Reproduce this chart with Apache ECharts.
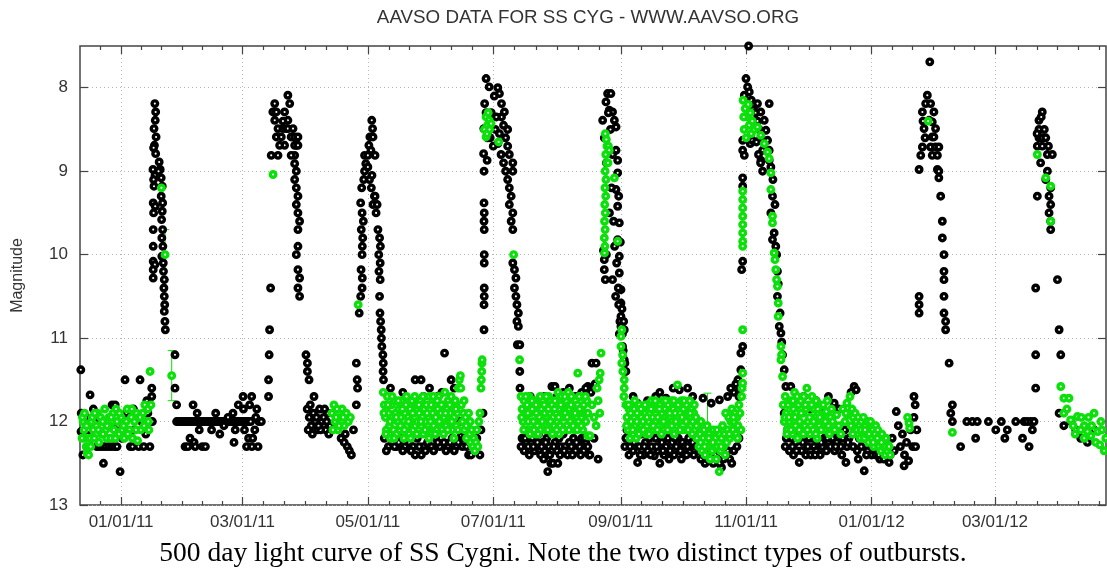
<!DOCTYPE html>
<html>
<head>
<meta charset="utf-8">
<title>AAVSO SS Cyg</title>
<script src="https://cdn.jsdelivr.net/npm/echarts@6/dist/echarts.min.js"></script>
<style>
  html, body { margin: 0; padding: 0; background: #fff; }
  #main { width: 1107px; height: 571px; }
</style>
</head>
<body>
<div id="main"></div>
<script>
// days counted from 01/01/11
var tickDays = [0, 59, 120, 181, 243, 304, 365, 425];
var tickLabels = ["01/01/11", "03/01/11", "05/01/11", "07/01/11", "09/01/11", "11/01/11", "01/01/12", "03/01/12"];
var magTicks = [8, 9, 10, 11, 12, 13];

// visual observations (black) : [day, magnitude]
var visualObs = [
  // Dec 2010 - Jan 2011 quiescence
  [-19.6,11.38],[-19.4,11.9],[-19.5,12.12],[-18.6,12.4],[-15.1,11.68],[-17,11.95],[-16,12.1],[-14.5,12.2],[-13.5,11.85],[-12.5,12.0],
  [-11.8,12.3],[-10.5,12.3],[-9,12.3],[-7.5,12.3],[-6,12.3],[-4.5,12.3],[-3,12.3],[-2,12.3],[-8.6,12.5],[-0.5,12.6],
  [-4.4,11.8],[-2.9,11.8],[-1.5,12.05],[0.5,12.2],[1.9,11.5],[2.5,11.9],[3.5,12.15],[4.5,12.3],[5.5,12.3],[6.5,12.1],
  [7.5,11.95],[8.5,12.3],[9.2,11.5],[10,12.0],[11,12.3],[12,12.15],[13,11.9],[14,12.3],[14.9,11.6],[14.9,11.7],[15.2,12.0],[12.5,11.75],[6,11.85],[1,11.95],
  // outburst 1
  [16.4,8.19],[16.8,8.29],[16.6,8.39],[16,8.49],[17,8.59],[16.2,8.69],[15.8,8.72],[16.8,8.79],[15.5,8.98],[16.5,9.05],[15.8,9.1],[16,9.18],
  [15.6,9.38],[16.6,9.42],[15.8,9.5],[15.6,9.7],[15.6,9.9],[15.6,10.08],[16.4,10.12],[15.6,10.18],[15.6,10.28],
  [18.5,8.89],[19,8.98],[18.2,9.0],[19.5,9.08],[20,9.18],[19.5,9.3],[20.2,9.38],[20,9.48],[19.7,9.58],[20.2,9.7],[19.8,9.8],
  [20.3,9.9],[19.8,10.02],[20.5,10.1],[20.6,10.2],[21,10.3],[20.8,10.4],[21,10.5],[21.2,10.6],[21,10.68],[21.3,10.8],[21.5,10.9],
  [26.2,11.2],[26.2,11.6],[27,11.8],
  // Feb 2011 quiescence
  [27,12.0],[28,12.0],[29,12.0],[30,12.0],[31,12.0],[32,12.0],[33,12.0],[34,12.0],[35,12.0],[36,12.0],[37,12.0],[38,12.0],
  [39,12.0],[40,12.0],[41,12.0],[42,12.0],[43,12.0],[44,12.0],[45,12.0],[46,12.0],[47,12.0],[48,12.0],[49,12.0],[50,12.0],
  [51,12.0],[52,12.0],[53,12.0],[54,12.0],[55,12.0],[56,12.0],[57,12.0],[58,12.0],[59,12.0],[60,12.0],[61,12.0],[62,12.0],[63,12.0],
  [31.1,12.3],[32.5,12.3],[35,11.8],[33.5,12.2],[35.5,12.25],[36,12.3],[38,12.1],[39.5,12.3],[41,12.3],[37,11.9],[44,12.1],
  [46,11.9],[48,12.15],[50,12.05],[52,11.95],[54.4,11.9],[54.9,12.25],[55.5,12.1],[57,11.8],[59.3,11.7],[59.5,11.85],[60,12.1],
  [61,12.3],[62,12.2],[62.5,11.8],[63.5,11.7],[63.6,12.3],[64,12.2],[65,12.1],[66,11.85],[66.6,12.3],[67,12.0],[68.2,12.0],[65.5,11.95],
  // outburst 2
  [72.7,10.4],[72.2,10.9],[72.0,11.2],[71.7,11.5],[71.7,11.7],
  [81.1,8.09],[82.0,8.19],[74.7,8.19],[73.8,8.29],[75.5,8.29],[74.7,8.39],[76.3,8.49],[73.0,8.81],[75.5,8.59],[77.9,8.59],
  [78.7,8.49],[80.3,8.49],[81.1,8.49],[82.7,8.59],[84.4,8.59],[85.2,8.69],[84.4,8.69],[86.0,8.69],[84.4,8.81],[82.7,8.81],
  [79.5,8.69],[77.1,8.69],[76.3,8.81],[81.1,8.39],[79.5,8.29],[78.7,8.4],[86.0,8.59],[83.6,8.49],
  [84.4,8.91],[85.2,9.0],[84.4,9.1],[85.2,9.2],[86.0,9.3],[85.2,9.4],[86.0,9.5],[86.8,9.6],[86.0,9.7],[86.0,9.9],[85.2,10.0],
  [86.0,10.18],[86.8,10.28],[86.0,10.4],[86.8,10.5],[89.9,11.2],[90.6,11.3],[90.6,11.4],[91.4,11.5],[93.8,11.7],
  [90.5,11.85],[91.5,11.95],[92.5,12.05],[93.5,11.9],[94.5,12.0],[95.5,12.1],[96.5,11.85],[97.5,12.0],[98.5,11.95],[99.5,12.1],
  [100.5,11.9],[101.5,12.05],[91,12.1],[93,12.15],[95,11.95],[97,12.1],[99,11.85],[101,12.15],[92,11.8],[96,12.05],[100,12.0],
  [107,12.2],[108.5,12.25],[110,12.3],[111,12.35],[112,12.4],[109,12.15],[113,12.1],
  // outburst 3
  [114.4,11.3],[114.8,11.5],[115,11.6],[114.4,11.8],[115.8,10.7],[116.7,10.18],[117.3,10.28],[117.2,10.4],[116.5,10.5],
  [116.5,9.38],[117.2,9.5],[117.8,9.6],[116.8,9.7],[117.5,9.8],[117.3,9.9],[117.2,10.0],
  [117,9.2],[118,9.1],[118.4,9.0],[119,8.91],[118.4,8.81],[120.5,8.69],[121,8.59],[121.9,8.39],[122.3,8.49],[122.5,8.59],
  [121.5,8.75],[120,8.81],[120,8.95],[120.8,9.1],[121.7,9.2],[123.2,9.3],[122.5,9.4],[124,9.5],[123.5,9.3],[124.5,9.4],[122,9.05],[123.5,8.81],
  [124.9,9.7],[125.7,9.8],[126.1,9.9],[125.3,10.0],[126,10.1],[125.4,10.2],[126,10.3],[125.7,10.5],[125.9,10.7],[126.2,10.8],
  [126.5,10.9],[126.6,11.0],[126.8,11.1],[127.3,11.2],[127.5,11.3],[127.4,11.4],[127.6,11.5],
  // May - June 2011 quiescence
  [128,12.2],[130,12.3],[132,12.25],[134,12.3],[136,12.2],[138,12.3],[140,12.25],[142,12.3],[143,11.5],[143,12.4],[144,12.2],
  [145.9,11.5],[146,12.4],[147,12.3],[149,12.25],[151,12.3],[153,12.2],[155,12.3],[157,12.25],[157.3,11.18],[159,12.3],
  [160.5,11.5],[161,12.2],[163,12.3],[165.4,12.17],[166,12.3],[168,12.3],[169,12.4],[170.2,12.4],[171,12.25],[173,12.2],
  [174.5,12.4],[175,12.1],[176,11.9],[131,11.6],[137,11.65],[150,11.6],[154,11.7],[162,11.6],[133,11.75],[139,11.85],
  [147,11.7],[156,11.65],[165,12.0],[159,11.85],
  [129,12.35],[131,12.15],[133,12.3],[135,12.25],[137,12.35],[139,12.2],[141,12.35],[145,12.3],[148,12.35],[152,12.35],
  [154,12.25],[158,12.35],[160,12.25],[162,12.35],[164,12.25],[167,12.2],
  // outburst 4
  [176.5,10.9],[176.6,10.4],[176.6,10.5],[176.5,10.6],[176.6,10.0],[176.6,10.1],[176.5,9.38],[176.6,9.5],[176.5,9.6],
  [176.6,9.7],[176.5,9.0],[176.3,8.79],[176.4,8.49],[176.8,8.19],
  [177.5,7.89],[179,7.99],[183.2,8.0],[186.4,8.29],[188,8.5],[184,8.07],[185,8.19],[181.5,8.1],[183.2,8.67],[184.8,8.8],
  [188,8.7],[188.8,8.8],[190.5,8.9],[190.5,9.0],[188,9.1],[188.8,9.2],[189.7,9.3],[188.8,9.4],[190.5,9.5],[189.7,9.6],
  [190.5,9.7],[178,8.87],[180,8.3],[182,8.5],[181,8.7],[186,8.45],[187,8.6],[185,8.35],[179.5,8.6],[182.5,8.35],[184,8.55],
  [186,8.9],[187,9.0],[177.5,8.3],[178.2,8.6],
  [190.5,10.1],[191.3,10.18],[192,10.28],[191.3,10.4],[192,10.5],[192.5,10.6],[193.2,10.7],[192.5,10.8],[193.2,10.86],
  [192.7,11.08],[193.9,11.08],[193.9,11.4],
  // Jul - Aug 2011 quiescence
  [194,11.6],[195,12.2],[196,12.35],[197,12.25],[198,12.3],[199,11.7],[200,12.2],[201,12.35],[202,12.3],[203,12.15],[204,12.4],
  [205,12.25],[205.5,12.45],[206,12.35],[207.5,12.6],[207,12.2],[208,12.3],[209,12.5],[209.5,12.35],[210,12.5],[211,12.25],
  [212.4,12.5],[212,12.35],[213,12.2],[214,12.3],[215,12.15],[216,12.3],[217.2,12.4],[218,12.25],[219,12.3],[220,12.2],
  [221,12.35],[222,12.25],[223,12.3],[224,12.2],[225,12.35],[226,12.25],[209.5,11.58],[211,11.58],[212,11.7],[215,11.65],
  [218,11.6],[221,11.7],[224,11.65],[227,11.58],[229,11.3],[227.5,12.4],[203,11.75],[206,11.7],
  [194.5,12.3],[196.5,12.2],[198.5,12.4],[200.5,12.3],[202.5,12.25],[204.5,12.3],[206.5,12.25],[208.5,12.4],[210.5,12.3],
  [213.5,12.4],[215.5,12.35],[219.5,12.4],[221.5,12.25],[223.5,12.4],[225.5,12.2],
  [227,12.3],[228,12.4],[230,12.2],[231,11.3],[232,12.45],[230.5,11.55],[226,11.6],[228.5,11.65],
  // outburst 5
  [236.6,8.07],[238.2,8.07],[235.8,8.17],[237.4,8.27],[239,8.29],[239.9,8.39],[240.7,8.47],[234.2,8.39],[235,8.6],[240.7,8.75],
  [241.5,8.87],[241.5,9.02],[240.7,9.22],[241.5,9.42],[242.3,9.62],[241.5,9.82],[242.3,10.02],[242.3,10.22],[243.1,10.42],
  [243.1,10.58],[243.1,10.74],[235,10.06],[235,10.18],[235.5,10.3],[234.6,9.95],[238,8.5],[239,8.8],[236,8.9],[237.5,9.5],
  [238.5,9.2],[239.5,9.6],[240,9.9],[241,10.1],[239,10.3],[240.5,10.5],[242,10.6],[237,8.3],[236,10.0],
  [242,9.3],[242.8,9.85],[241.8,10.4],[242.6,10.8],[243.6,10.65],[243.8,10.95],[244.2,11.15],[245,11.3],[244.4,10.8],
  [243.1,10.86],[244.7,10.9],[242.3,10.95],[243.9,11.1],[244.7,11.26],[245.5,11.4],
  // Sep - Oct 2011 quiescence
  [245,12.3],[246,12.1],[247,12.4],[248,12.25],[249,12.35],[250,12.2],[251.2,12.49],[252,12.3],[253,12.15],[254,12.4],
  [255,12.25],[256,12.35],[257,12.2],[258,12.3],[259.3,12.41],[260,12.2],[261,12.35],[262,12.5],[263,12.25],[264,12.4],
  [265,12.3],[266,12.2],[267,12.35],[268,12.25],[269,12.4],[270,12.3],[271,12.2],[272,12.35],[273,12.25],[274,12.3],
  [275,12.4],[276,12.2],[277,12.3],[278,12.25],[279,12.35],[280,12.3],[282,12.45],[284,12.5],[286,12.4],[288,12.5],
  [290,12.45],[292,12.55],[294,12.4],[296,12.45],[298,12.35],[299.5,12.3],[300.5,12.2],
  [245.5,12.2],[247.5,12.3],[249.5,12.25],[252.5,12.4],[254.5,12.3],[257.5,12.4],[260.5,12.3],[263.5,12.35],[266.5,12.45],
  [269.5,12.2],[272.5,12.45],[275.5,12.3],[278.5,12.4],[281,12.35],[283,12.4],[285,12.45],[287,12.35],[289,12.4],[291,12.5],
  [293,12.45],[295,12.35],[297,12.5],
  [249,11.7],[251,11.78],[256,11.75],[260,11.7],[262,11.65],[265,11.72],[268.5,11.6],[271.5,11.62],[275.5,11.6],[278,11.7],
  [283,11.72],[287,11.78],[291,11.74],[295,11.7],[298,11.65],[300,11.5],[299,11.55],[296.5,11.6],
  // outburst 6
  [301.4,11.38],[301.4,11.18],[302.3,11.1],[301.8,10.18],[302.3,10.08],[302.3,9.08],[302.3,9.18],[301,11.6],[300.5,11.7],
  [305.2,7.5],[303.9,7.89],[304.7,7.99],[303.1,8.09],[305.5,8.05],[306.5,8.15],[307.5,8.25],[308,8.4],[302.3,8.63],
  [302.3,8.75],[303.1,8.81],[306,8.67],[307,8.63],[311.2,8.87],[307.9,8.2],[308.7,8.3],[309.5,8.4],[310.3,8.5],[311.2,8.6],
  [312,8.75],[309,8.65],[310,8.8],[311,8.9],[312,9.0],
  [309.5,8.19],[311.1,8.29],[312.8,8.39],[313.6,8.51],[314.4,8.63],[315.2,8.75],[315.2,8.87],[316,8.95],[315.2,8.19],
  [316.8,9.3],[316,9.5],[317.6,9.74],[318.4,9.9],[316.8,9.82],[319.2,10.2],[319.2,10.5],[320.1,10.86],[320.9,10.94],
  [322.5,11.38],[323.3,11.58],[317,9.1],[318,9.4],[318.8,10.0],[319.6,10.35],[320.5,10.7],[321.3,11.05],[321.7,11.2],
  // Nov - Dec 2011 quiescence
  [322.5,11.9],[323,12.3],[324,12.1],[325,12.35],[325.7,11.58],[326,12.2],[327,12.4],[328,12.25],[329.8,12.49],[330,12.15],
  [331,12.35],[332,12.2],[333,12.4],[334,12.3],[335.4,12.4],[336,12.2],[337,12.3],[338,12.35],[339,12.25],[340,12.4],
  [341,12.3],[342,12.2],[343,12.35],[344,12.25],[345,12.3],[346.8,11.78],[346,12.2],[347,12.35],[348,12.25],[349,12.15],
  [350,12.3],[351,12.2],[352.5,12.49],[352,12.1],[353,12.3],[354,12.2],[355,11.65],[356.5,11.58],[357.5,11.62],[358,12.35],
  [359,12.2],[360,12.3],[361.4,12.59],[362,12.2],[363,12.35],[364,12.25],[365,12.4],[366,12.3],[367,12.4],[368,12.3],
  [369,12.45],[370,12.35],[371,12.45],[372,12.3],[373.5,12.49],[374,12.4],[375,12.2],[376,12.35],[377,11.88],[378,12.05],
  [379,12.3],[380,12.15],[380.8,12.53],[381,12.4],[382,12.25],[383,12.47],[384,12.1],[385,12.3],[385.6,11.7],[386.2,11.8],
  [385.6,11.95],[386.4,12.3],[387,12.1],[332,11.7],[338,11.75],[344,11.7],[349,11.85],[335,11.85],[341,11.9],
  [323.5,12.2],[326.5,12.3],[328.5,12.35],[331.5,12.25],[334.5,12.2],[337.5,12.4],[340.5,12.25],[343.5,12.2],[347.5,12.3],
  [350.5,12.4],[353.5,12.25],[356,12.3],[358.5,12.45],[362.5,12.4],[365.5,12.3],[368.5,12.4],
  // outburst 7
  [388.1,10.5],[388.1,10.6],[388.1,10.7],
  [388.1,8.98],[389.7,8.29],[390.5,8.49],[389.7,8.71],[388.9,8.81],[393,8.39],[394.5,8.59],[391.3,8.19],[392.1,8.09],
  [393.3,7.69],[393.7,8.19],[395.3,8.29],[394.5,8.41],[396.1,8.49],[395.3,8.59],[393.7,8.71],[396.1,8.71],[397.7,8.71],
  [394.5,8.81],[397,8.81],[397,8.98],[397.7,9.0],[397.7,9.08],[398.6,9.3],[399.4,9.6],[399.4,9.8],[400.2,10.0],[400.2,10.2],
  [400.2,10.3],[400.2,10.5],[400.2,10.7],[401,10.8],[401,10.9],[402.7,11.3],[404.3,11.8],[403.5,11.9],[404.3,12.0],
  [408.3,12.3],[391,8.6],[390,8.4],
  // Jan - Feb 2012 sparse
  [411.3,12.0],[414,12.0],[416.4,12.0],[415.6,12.2],[421.8,12.0],[425.4,12.1],[428.1,12.0],[431,12.1],[429.8,12.2],
  [435.1,12.0],[438.4,12.2],[439.2,12.0],[440.7,12.0],[442.4,12.0],[444,12.0],[441.6,12.3],[443.2,12.1],
  // outburst 8
  [444.8,10.4],[444.8,11.2],[444.8,11.6],[448,8.29],[446.4,8.39],[446.4,8.6],[448,8.6],[449.7,8.6],[445.6,8.7],[450.5,8.8],
  [447.2,8.9],[450.5,9.0],[449.7,9.1],[452.1,9.2],[451.3,9.3],[452.1,9.4],[451.3,9.5],[452.1,9.6],[452.1,9.7],[445.6,9.3],
  [448,8.7],[452.9,8.8],[446.4,8.5],[447.5,8.35],[449,8.5],[451,8.7],[445.5,8.55],
  [455.4,10.3],[456.2,10.9],[457,11.2],[456.2,11.9],
  [464.3,12.1],[466.7,12.2],[473.2,12.1],[462,12.0],[458.5,12.05],[470,12.25]
];

// V band observations (green) : [day, magnitude]
var vObs = [
  [-20.2,11.48],[-20.2,11.55],[-20.2,11.62],[-20.2,11.69],[-20.2,11.76],[-20.2,11.83],[-20.2,11.9],
  [-18.5,12.0],[-18,12.1],[-17.5,12.2],[-17,12.3],[-16.5,12.38],[-16,12.3],[-15.8,12.4],[-15,12.2],[-14.5,12.0],[-14,11.95],
  [-13.5,12.1],[-13,12.2],[-12,12.05],[-11.5,11.9],[-11,12.1],[-10,11.95],[-9.5,12.15],[-9,12.0],[-8,11.85],[-7.5,12.1],
  [-7,12.2],[-6,11.95],[-5.5,12.05],[-5,12.2],[-4,11.9],[-3.5,12.1],[-2.5,11.85],[-2,12.0],[-1,12.15],[0,11.95],[0.5,12.1],
  [1.5,12.2],[2.5,12.0],[3,11.85],[4,12.1],[5,11.95],[5.5,12.2],[6.5,12.0],[7.5,11.9],[8,12.23],[8.5,11.95],[9.5,12.1],
  [10.5,11.9],[11.5,11.8],[12,12.0],[13,11.85],[13.5,12.1],[14.1,11.4],[14.5,11.8],[-19,12.2],[-18.8,11.95],
  [-17.8,11.9],[-16.8,12.05],[-14.8,12.3],[-12.8,11.9],[-10.8,12.25],[-8.8,12.15],[-6.8,12.05],[-4.8,11.95],[-2.8,12.2],
  [-0.8,11.9],[1.2,12.05],[3.2,12.15],[5.2,11.85],[7.2,12.1],[9.2,11.95],[11.2,12.05],[13.2,12.0],
  [19.6,9.2],[21.4,10.0],[24.6,11.45],
  [73.9,9.04],
  [102.5,11.9],[103.5,11.8],[104,12.0],[105,11.85],[105.5,12.1],[106.5,11.95],[107.5,11.85],[108.5,12.05],[109.5,11.9],
  [110.5,12.0],[111.5,11.95],[104.5,11.95],[106,12.05],[103,12.1],[108,11.95],
  [115.3,10.6],
  [127.5,11.65],[128,11.8],[128.5,11.95],[129,12.1],[129.5,11.7],[130,11.9],[130.5,12.05],[131,12.2],[131.5,11.8],[132,11.95],
  [132.5,12.1],[133,11.75],[133.5,11.9],[134,12.15],[134.5,12.0],[135,11.85],[135.5,12.1],[136,11.95],[136.5,11.75],[137,12.05],
  [137.5,12.2],[138,11.9],[138.5,11.8],[139,12.05],[139.5,11.95],[140,12.15],[140.5,11.85],[141,12.0],[141.5,11.75],[142,12.1],
  [142.5,11.9],[143,12.05],[143.5,11.8],[144,12.0],[144.5,12.15],[145,11.9],[145.5,11.75],[146,12.05],[146.5,11.95],[147,12.15],
  [147.5,11.85],[148,12.0],[148.5,11.8],[149,12.1],[149.5,11.95],[150,11.7],[150.5,12.0],[151,12.15],[151.5,11.9],[152,12.05],
  [152.5,11.8],[153,11.95],[153.5,12.1],[154,11.85],[154.5,11.7],[155,12.0],[155.5,11.9],[156,12.1],[156.5,11.8],[157,11.95],
  [157.5,11.65],[158,12.05],[158.5,11.85],[159,11.75],[159.5,12.0],[160,11.9],[160.5,11.7],[161,12.1],[161.5,11.8],[162,11.95],
  [162.5,11.75],[163,12.05],[163.5,11.9],[164,11.6],[164.5,11.5],[165,11.45],[165.2,11.6],[165.5,11.8],[166,12.0],[166.5,11.9],
  [167,12.1],[167.5,11.95],[168,12.2],[168.5,12.05],[169,11.9],[169.5,12.15],[170,12.25],[170.5,12.1],[171,12.3],[171.5,12.2],
  [172,12.35],[172.5,12.25],[173,12.1],[173.5,12.3],[174,12.0],[174.5,11.9],[175,11.6],[175.2,11.5],[175.4,11.4],[175.5,11.3],[175.6,11.26],
  [127.8,11.9],[128.8,12.15],[129.8,11.8],[130.8,12.0],[131.8,11.7],[132.8,12.2],[133.8,11.95],[134.8,11.75],[135.8,12.05],
  [136.8,11.85],[137.8,12.1],[138.8,11.7],[139.8,12.0],[140.8,12.2],[141.8,11.9],[142.8,11.7],[143.8,12.15],[144.8,11.8],
  [145.8,12.0],[146.8,11.7],[147.8,12.1],[148.8,11.9],[149.8,12.2],[150.8,11.8],[151.8,11.7],[152.8,12.15],[153.8,11.75],
  [154.8,12.0],[155.8,11.8],[156.8,12.15],[157.8,11.9],[158.8,12.1],[159.8,11.8],[160.8,12.0],[161.8,12.2],[162.8,11.85],
  [163.8,12.1],[166.8,11.75],[167.8,12.05],[169.8,12.0],
  [177.5,8.35],[178.2,8.45],[176.7,8.5],[179,8.39],[177.5,8.59],[179.9,8.43],[178.5,8.3],[178,8.55],[179.2,8.5],[183.6,8.65],
  [190.9,10.0],[193.8,11.26],
  [194.5,11.7],[195,11.85],[195.5,12.0],[196,11.75],[196.5,11.95],[197,12.1],[197.5,11.8],[198,12.0],[198.5,11.7],[199,11.9],
  [199.5,12.1],[200,11.85],[200.5,12.0],[201,11.75],[201.5,12.15],[202,11.9],[202.5,12.05],[203,11.8],[203.5,11.95],[204,12.1],
  [204.5,11.85],[205,11.75],[205.5,12.0],[206,11.9],[206.5,12.1],[207,11.8],[207.5,12.0],[208,11.7],[208.5,11.9],[209,12.1],
  [209.5,11.8],[210,11.95],[210.5,12.05],[211,11.75],[211.5,11.9],[212,12.0],[212.5,11.65],[213,11.85],[213.5,12.05],[214,11.7],
  [214.5,11.95],[215,11.8],[215.5,12.1],[216,11.9],[216.5,11.75],[217,11.95],[217.5,11.65],[218,11.85],[218.5,12.0],[219,11.7],
  [219.5,11.9],[220,11.8],[220.5,12.1],[221,11.75],[221.5,11.95],[222,11.8],[222.1,11.42],[222.5,12.0],[223,11.85],[223.5,11.7],
  [224,11.95],[224.5,12.1],[225,11.8],[225.5,11.9],[226,12.0],[226.5,11.75],[227,12.17],[207.5,12.1],[213,12.15],
  [194.8,11.95],[195.8,12.1],[196.8,11.7],[197.8,11.9],[198.8,12.15],[199.8,11.75],[200.8,12.1],[201.8,11.8],[202.8,12.15],
  [203.8,11.7],[204.8,12.0],[205.8,11.8],[206.8,11.7],[207.8,11.85],[208.8,12.0],[209.8,12.15],[210.8,11.85],[211.8,12.1],
  [212.8,11.95],[213.8,11.8],[214.8,12.1],[215.8,11.7],[216.8,12.05],[217.8,12.1],[218.8,11.8],[219.8,12.05],[220.8,11.9],
  [221.8,12.1],[222.8,11.7],[223.8,12.05],[224.8,11.9],[225.8,11.7],[226.2,11.9],
  [227,11.9],[228,12.17],[229,11.8],[230,11.95],[231,12.05],[231.5,11.6],[232,11.75],[232.5,11.5],[233,11.42],[233.4,11.18],[232.8,11.9],
  [235.5,8.55],[236,8.62],[236.3,8.7],[235.7,8.8],[236.2,8.9],[235.4,9.0],[235.8,9.1],[235.3,9.2],[235.7,9.3],[235.2,9.4],
  [235.5,9.5],[235.1,9.6],[235.4,9.7],[235,9.8],[235.3,9.9],[235.1,9.98],[237,8.7],[236.8,8.9],[237.4,8.75],[239.9,9.08],[241.5,9.84],
  [243.1,10.98],[243.1,11.1],[243.9,11.2],[244.7,11.5],[244.7,11.6],[243.5,10.9],[243.5,11.3],[244,11.4],[244.5,11.7],
  [245.5,11.8],[246,11.95],[246.5,12.1],[247,11.85],[247.5,12.2],[248,12.0],[248.5,11.9],[249,12.15],[249.5,11.85],[250,12.05],
  [250.5,12.2],[251,11.9],[251.5,12.0],[252,11.8],[252.5,12.1],[253,11.95],[253.5,11.85],[254,12.1],[254.5,12.0],[255,11.9],
  [255.5,12.15],[256,11.8],[256.5,12.0],[257,11.9],[257.5,12.1],[258,11.75],[258.5,11.95],[259,12.1],[259.5,11.85],[260,12.0],
  [260.5,11.8],[261,11.95],[261.5,12.1],[262,11.8],[262.5,12.0],[263,11.9],[263.5,11.75],[264,12.1],[264.5,11.85],[265,12.0],
  [265.5,11.9],[266,11.8],[266.5,12.1],[267,11.95],[267.5,11.75],[268,12.0],[268.5,11.85],[269,12.15],[269.5,11.9],[270,12.05],
  [270.6,11.56],[271,11.8],[271.5,12.0],[272,11.9],[272.5,11.75],[273,12.1],[273.5,11.85],[274,11.95],[274.5,12.1],[275,11.8],
  [275.5,12.0],[276,11.9],[276.5,11.75],[277,12.05],[277.5,11.85],[278,12.0],[278.5,11.9],[279,12.1],[279.5,11.95],[280,12.2],
  [280.5,12.05],[281,12.3],[281.5,12.15],[282,12.0],[282.5,12.35],[283,12.2],[283.5,12.1],[284,12.4],[284.5,12.25],[285,12.05],
  [285.5,12.3],[286,12.15],[286.5,12.45],[287,12.2],[287.5,12.35],[288,12.1],[288.5,12.3],[289,12.2],[289.5,12.45],[290,12.3],
  [290.9,12.6],[291,12.15],[291.5,12.35],[292,12.2],[292.5,12.05],[293,12.3],[293.5,12.15],[294,11.9],[294.5,12.25],[295,12.1],
  [295.5,11.95],[296,12.2],[296.5,12.0],[297,11.85],[297.5,12.1],[298,12.0],[298.5,11.9],[299,12.15],[299.5,11.95],[300,12.05],
  [300.5,11.8],[301,11.9],[301.5,12.1],[301.8,11.7],[302,11.6],
  [245.8,12.05],[246.8,11.8],[247.8,11.9],[248.8,12.1],[249.8,11.75],[250.8,12.0],[251.8,12.15],[252.8,11.85],[253.8,12.0],
  [254.8,11.8],[255.8,11.95],[256.8,12.15],[257.8,11.85],[258.8,12.05],[259.8,11.75],[260.8,12.1],[261.8,11.85],[262.8,12.15],
  [263.8,12.0],[264.8,11.75],[265.8,12.1],[266.8,11.9],[267.8,12.05],[268.8,11.75],[269.8,12.0],[271.8,12.1],[272.8,11.95],
  [273.8,11.75],[274.8,12.0],[275.8,12.1],[276.8,11.9],[277.8,12.15],[278.8,11.8],[279.8,12.05],[281.8,12.25],[283.8,12.3],
  [285.8,12.2],[287.8,12.25],[289.8,12.1],[291.8,12.3],[293.8,12.4],[295.8,12.15],[297.8,11.95],[299.8,12.2],
  [302.3,11.42],[302.3,11.54],[302.3,10.9],[302.3,9.24],[302.3,9.34],[302.3,9.44],[302.3,9.54],[302.3,9.64],[302.3,9.74],
  [302.3,9.84],[302.3,9.9],
  [302.5,8.15],[303.5,8.25],[304.5,8.35],[305.5,8.45],[306.5,8.55],[303,8.5],[304,8.6],[302.8,8.35],[305,8.2],[306,8.3],
  [307,8.4],[308,8.5],[309.5,8.47],[311.1,8.57],[312.8,8.67],[314.4,8.77],[315.2,8.85],[316,9.02],[316,9.22],[316.8,9.54],
  [316.8,9.62],[317.6,9.98],[318,10.06],[318.4,10.18],[318.8,10.3],[319.2,10.38],[319.6,10.58],[319.6,10.74],[320.9,11.1],
  [321.2,11.2],[320.9,11.26],[321.7,11.46],
  [322,11.8],[322.5,12.0],[323,11.7],[323.5,11.9],[324,12.1],[324.5,11.8],[325,12.0],[325.5,11.75],[326,11.95],[326.5,12.15],
  [327,11.85],[327.5,11.65],[328,12.05],[328.5,11.9],[329,12.2],[329.5,11.8],[330,12.0],[330.5,11.75],[331,12.1],[331.5,11.9],
  [332,11.7],[332.5,12.05],[333,11.85],[333.5,11.6],[334,12.0],[334.5,11.8],[335,12.15],[335.5,11.95],[336,11.7],[336.5,12.1],
  [337,11.85],[337.5,12.0],[338,11.75],[338.5,12.2],[339,11.9],[339.5,12.05],[340,11.8],[341,11.95],[342,12.1],[343,11.88],
  [344,12.05],[345,11.95],[346,12.0],[347,12.1],[348,11.92],[349,12.05],[350,12.15],[351,11.85],[352,12.0],[353,11.78],
  [354,11.92],[354.5,11.7],[355,12.05],[355.5,11.85],[356,11.95],[356.5,12.1],[357,11.9],[357.5,12.0],[358,12.15],[358.5,11.95],
  [359,12.05],[359.5,12.2],[360,12.0],[360.5,12.1],[361,11.95],[361.5,12.2],[362,12.05],[362.5,12.15],[363,12.0],[363.5,12.25],
  [364,12.1],[364.5,12.0],[365,12.2],[365.5,12.1],[366,12.3],[366.5,12.15],[367,12.05],[367.5,12.25],[368,12.1],[368.5,12.3],
  [369,12.2],[369.5,12.35],[370,12.15],[370.5,12.3],[371,12.25],[371.5,12.4],[372,12.2],[372.5,12.35],[373,12.28],[374,12.4],
  [322.8,11.95],[323.8,12.15],[324.8,11.95],[325.8,12.1],[326.8,11.75],[327.8,11.95],[328.8,11.7],[329.8,12.1],[330.8,11.9],
  [331.8,12.15],[332.8,11.8],[333.8,12.1],[334.8,11.95],[335.8,11.8],[336.8,12.0],[337.8,12.15],[338.8,11.85],[339.8,11.95],
  [340.5,12.1],[341.5,11.8],[342.5,12.0],[343.5,11.75],[344.5,12.15],[345.5,11.85],[352.5,11.9],[355.8,12.15],[357.8,12.1],
  [359.8,12.1],[361.8,12.1],[363.8,12.15],[365.8,12.25],[367.8,12.2],[369.8,12.25],[371.8,12.3],[373.5,12.3],
  [383.2,12.02],[382.5,11.95],[383.5,12.08],
  [392.5,8.4],[404.3,12.13],
  [445.6,8.8],[449.7,9.08],[452.1,9.18],[452.1,9.6],
  [457,11.58],[458.5,11.72],[458.5,11.9],[461,11.72],[461.8,11.98],[465.1,11.94],[468.4,12.05],[473.2,11.9],[476.5,12.0],
  [471.6,12.17],[468.4,12.2],[478.1,12.35],[466.7,12.1],[470,12.12],[475,12.12],[478.9,12.2],[460,11.85],[463,12.05],
  [467,11.95],[474,12.25],[477,12.1],[472,12.05],[464,12.15],[470.5,11.95],[476,12.28]
];

// V band error bars : [day, upper mag, lower mag]
var vErrors = [[21.4, 9.7, 10.3], [24.6, 11.15, 11.75], [285.2, 11.66, 12.2]];

var GREEN = "#0be00b";
var AXIS = "#444";
var SANS = "Liberation Sans, Arial, sans-serif";

// minor ticks: each two-month span split in six
var allMonths = [-61].concat(tickDays, [486]);
var minorDays = [];
for (var i = 0; i < allMonths.length - 1; i++) {
  var step = (allMonths[i + 1] - allMonths[i]) / 6;
  for (var k = 1; k < 6; k++) {
    var d = allMonths[i] + k * step;
    if (d > -20 && d < 479) minorDays.push(d);
  }
}

var chart = echarts.init(document.getElementById("main"), null, { renderer: "canvas" });

function tickAxis(pos, values, len, labels, split) {
  return {
    type: "value", min: -20, max: 479, gridIndex: 0,
    position: pos,
    axisLine: { show: false, onZero: false },
    axisTick: { show: true, inside: true, length: len, customValues: values, lineStyle: { color: AXIS, width: 1.2 } },
    axisLabel: labels ? {
      show: true, customValues: tickDays, fontSize: 17, color: "#333", margin: 9, fontFamily: SANS,
      formatter: function (v) { return tickLabels[tickDays.indexOf(v)]; }
    } : { show: false },
    splitLine: split ? { show: true, lineStyle: { color: "#b5b5b5", type: [1, 3], width: 1 } } : { show: false }
  };
}

function magAxis(pos, main) {
  var ax = {
    type: "value", inverse: true, min: 7.5, max: 13, position: pos,
    axisLine: { show: false, onZero: false },
    axisTick: { show: true, inside: true, length: 8, customValues: magTicks, lineStyle: { color: AXIS, width: 1.2 } },
    axisLabel: { show: false },
    splitLine: { show: false }
  };
  if (main) {
    ax.name = "Magnitude";
    ax.nameLocation = "middle";
    ax.nameRotate = 90;
    ax.nameGap = 54;
    ax.nameTextStyle = { fontSize: 16, color: "#333", fontFamily: SANS };
    ax.axisLabel = { show: true, customValues: magTicks, fontSize: 17, color: "#333", margin: 12, fontFamily: SANS };
    ax.splitLine = { show: true, lineStyle: { color: "#b5b5b5", type: [1, 3], width: 1 } };
  }
  return ax;
}

var option = {
  animation: false,
  backgroundColor: "#fff",
  grid: { left: 80, right: 1, top: 46, bottom: 66, show: true, borderColor: AXIS, borderWidth: 1.5, backgroundColor: "transparent" },
  xAxis: [
    tickAxis("bottom", tickDays, 8, true, true),
    tickAxis("bottom", minorDays, 4, false, false),
    tickAxis("top", tickDays, 8, false, false),
    tickAxis("top", minorDays, 4, false, false)
  ],
  yAxis: [magAxis("left", true), magAxis("right", false)],
  graphic: [
    {
      type: "text", x: 588, y: 18,
      style: {
        text: "AAVSO DATA FOR SS CYG - WWW.AAVSO.ORG", fill: "#333",
        font: "18.8px 'Liberation Sans', Arial, sans-serif", textAlign: "center", textVerticalAlign: "middle"
      }
    },
    {
      type: "text", x: 563, y: 554,
      style: {
        text: "500 day light curve of SS Cygni. Note the two distinct types of outbursts.", fill: "#000",
        font: "27.5px 'Liberation Serif', 'Times New Roman', serif", textAlign: "center", textVerticalAlign: "middle"
      }
    }
  ],
  series: [
    {
      name: "Visual", type: "scatter", xAxisIndex: 0, yAxisIndex: 0,
      data: visualObs, symbol: "circle", symbolSize: 5.5, clip: false,
      itemStyle: { color: "#fff", borderColor: "#000", borderWidth: 3.4, opacity: 1 },
      emphasis: { disabled: true }
    },
    {
      name: "V error", type: "custom", xAxisIndex: 0, yAxisIndex: 0,
      data: vErrors, encode: { x: 0, y: [1, 2] },
      renderItem: function (params, api) {
        var top = api.coord([api.value(0), api.value(1)]);
        var bot = api.coord([api.value(0), api.value(2)]);
        var st = { stroke: GREEN, lineWidth: 1 };
        return {
          type: "group",
          children: [
            { type: "line", shape: { x1: top[0], y1: top[1], x2: bot[0], y2: bot[1] }, style: st },
            { type: "line", shape: { x1: top[0] - 4, y1: top[1], x2: top[0] + 4, y2: top[1] }, style: st },
            { type: "line", shape: { x1: bot[0] - 4, y1: bot[1], x2: bot[0] + 4, y2: bot[1] }, style: st }
          ]
        };
      }
    },
    {
      name: "V", type: "scatter", xAxisIndex: 0, yAxisIndex: 0,
      data: vObs, symbol: "circle", symbolSize: 5.5,
      itemStyle: { color: "#fff", borderColor: GREEN, borderWidth: 3.4, opacity: 1 },
      emphasis: { disabled: true }
    }
  ]
};

chart.setOption(option);
</script>
</body>
</html>
